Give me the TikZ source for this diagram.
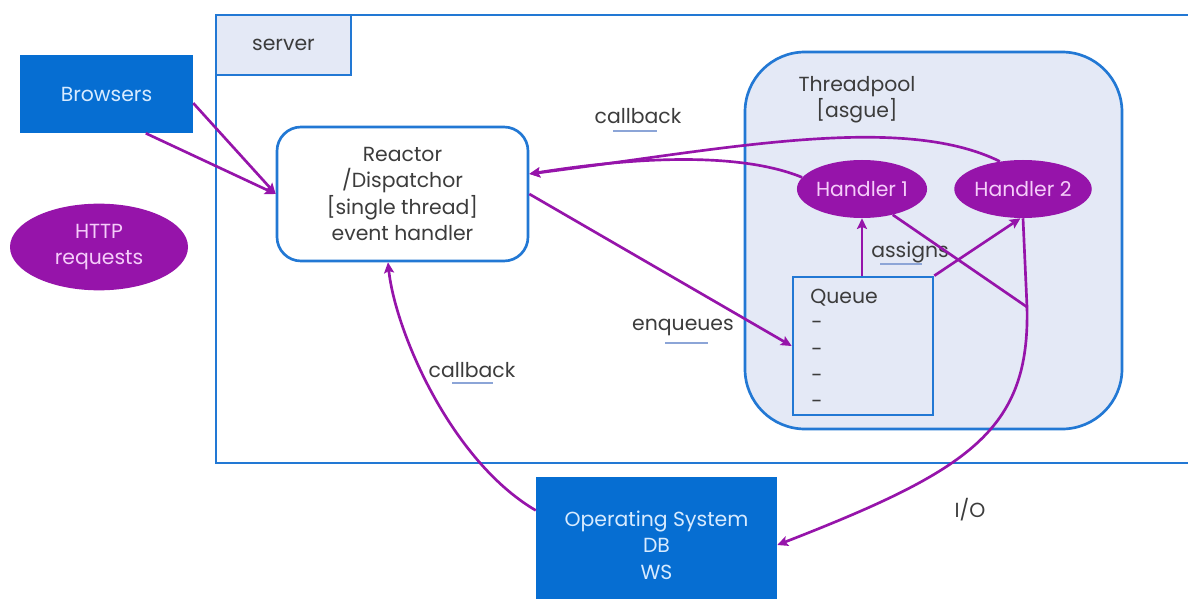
\documentclass[tikz,border=0pt]{standalone}
\usepackage{fontspec}
\setmainfont{Poppins}
\usetikzlibrary{arrows.meta,shapes.geometric,calc}
\definecolor{bord}{RGB}{34,120,212}
\definecolor{pale}{RGB}{228,233,246}
\definecolor{dblue}{RGB}{6,110,210}
\definecolor{boxtxt}{RGB}{215,235,255}
\definecolor{purp}{RGB}{150,20,170}
\definecolor{pinktxt}{RGB}{245,205,250}
\definecolor{txt}{RGB}{60,60,60}
\definecolor{ulc}{RGB}{140,165,215}
\tikzset{
  base/.style={font=\fontsize{15.3}{19.8}\selectfont, align=center, inner sep=0pt},
  darkbox/.style={base, rectangle, fill=dblue, text=boxtxt},
  lightbox/.style={base, rectangle, draw=bord, line width=2pt, fill=pale, text=txt},
  reactorbox/.style={base, rectangle, draw=bord, line width=2pt, fill=white, text=txt, rounded corners=18pt},
  poolbox/.style={rectangle, draw=bord, line width=2pt, fill=pale, rounded corners=45pt},
  purpell/.style={base, ellipse, fill=purp, text=pinktxt},
  lbl/.style={base, text=txt},
  uline/.style={draw=ulc, line width=1.3pt},
  link/.style={draw=purp, line width=2pt},
  flow/.style={link, -{Stealth[length=8pt,width=7.5pt,inset=1.5pt]}},
}
\begin{document}
\begin{tikzpicture}[x=0.75pt,y=-0.75pt]
\useasboundingbox (0,0) rectangle (1188,599);
\clip (0,0) rectangle (1188,599);

% server frame (runs off the right edge)
\draw[draw=bord, line width=2.2pt, fill=white] (216,15) rectangle (1240,463);
\node[lightbox, minimum width=101.25pt, minimum height=45pt] (srv) at (283.5,45) {server};

% outside actors
\node[darkbox, minimum width=129.75pt, minimum height=58.5pt] (brow) at (106.5,94) {Browsers};
\node[purpell, minimum width=133.5pt, minimum height=65pt] (http) at (99,247) {HTTP\\requests};

% reactor
\node[reactorbox, minimum width=188.25pt, minimum height=100.5pt] (reac) at (402.5,194)
  {Reactor\\/Dispatchor\\{[single thread]}\\event handler};

% thread pool
\node[poolbox, minimum width=282.75pt, minimum height=282.75pt] (pool) at (933.5,240.5) {};
\node[lbl] (pooltitle) at (857,100) {Threadpool\\{[asgue]}};
\node[purpell, minimum width=93pt, minimum height=43.5pt] (h1) at (862,189) {Handler 1};
\node[purpell, minimum width=93pt, minimum height=43.5pt] (h2) at (1023,189) {Handler 2};

% queue
\node[rectangle, draw=bord, line width=2pt, fill=pale, minimum width=105pt, minimum height=103.5pt] (queue) at (863,346) {};
\node[lbl, anchor=west] (qtitle) at (810,298) {Queue};
\node[lbl] (q1) at (817,325) {-};
\node[lbl] (q2) at (817,352) {-};
\node[lbl] (q3) at (817,378) {-};
\node[lbl] (q4) at (817,404) {-};

% operating system
\node[darkbox, minimum width=180.75pt, minimum height=102pt] (os) at (656.5,545) {Operating System\\DB\\WS};

% labels
\node[lbl] (cb1) at (638,116) {callback};
\draw[uline] (613,131) -- (657,131);
\node[lbl] (enq) at (683,327) {enqueues};
\draw[uline] (665,343) -- (708,343);
\node[lbl] (cb2) at (472,370) {callback};
\draw[uline] (452,383) -- (493,383);
\node[lbl, anchor=west] (asg) at (871,252) {assigns};
\draw[uline] (880,264) -- (922,264);
\node[lbl] (io) at (970,510) {I/O};

% connectors
\draw[flow] (brow.-6) -- (reac.west);
\draw[flow] (brow.-45) -- (reac.west);
\draw[flow] (h2.130) .. controls (900,112) and (720,150) .. (reac.9.5);
\draw[flow] (h1.169) .. controls (760,160) and (680,150) .. (reac.9.5);
\draw[flow] (reac.east) -- (queue.west);
\draw[flow] (queue.north -| h1.south) -- (h1.south);
\draw[flow] (queue.north east) -- (h2.-95);
\coordinate (iojoin) at (1027,307);
\draw[link] (h1.-40) -- (iojoin);
\draw[link] (h2.south) -- (iojoin);
\draw[flow] (iojoin) .. controls (1030,430) and (970,470) .. (os.east);
\draw[flow] (os.164) .. controls (450,460) and (395,330) .. (reac.-102);
\end{tikzpicture}
\end{document}
